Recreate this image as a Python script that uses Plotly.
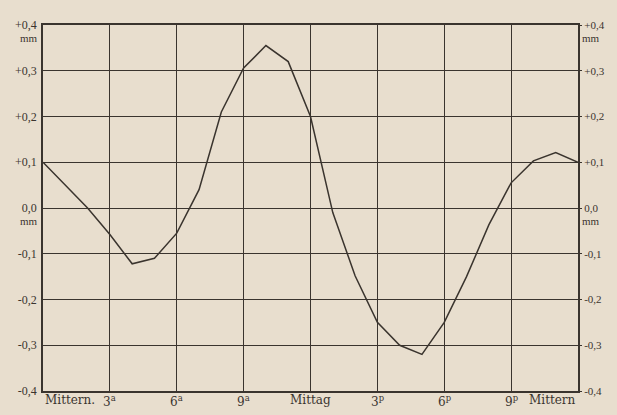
import plotly.graph_objects as go

# hourly values (mm), midnight to midnight
hours = list(range(25))
values = [0.10, 0.05, 0.0, -0.058, -0.122, -0.11, -0.055, 0.04, 0.21, 0.306,
          0.355, 0.32, 0.20, -0.01, -0.148, -0.25, -0.30, -0.32, -0.25, -0.15,
          -0.037, 0.055, 0.103, 0.121, 0.10]

y_tickvals = [0.4, 0.3, 0.2, 0.1, 0.0, -0.1, -0.2, -0.3, -0.4]
y_ticktext = ["+0,4", "+0,3", "+0,2", "+0,1", "0,0", "-0,1", "-0,2", "-0,3", "-0,4"]
mm_at = [0.4, 0.0]

x_tickvals = [0, 3, 6, 9, 12, 15, 18, 21, 24]
x_ticktext = ["Mittern.", "3<sup>a</sup>", "6<sup>a</sup>", "9<sup>a</sup>", "Mittag",
              "3<sup>p</sup>", "6<sup>p</sup>", "9<sup>p</sup>", "Mittern"]

ink = "#3a342e"
paper = "#e8dece"
serif = "Liberation Serif, DejaVu Serif, serif"
font = dict(family=serif, size=12, color=ink)

fig = go.Figure()
fig.add_trace(go.Scatter(x=hours, y=values, mode="lines",
                         line=dict(color=ink, width=1.5), showlegend=False,
                         hoverinfo="skip"))
# invisible trace to enable the right axis
fig.add_trace(go.Scatter(x=[0], y=[0], yaxis="y2", mode="markers",
                         marker=dict(opacity=0), showlegend=False, hoverinfo="skip"))

fig.update_layout(
    width=617, height=415,
    margin=dict(l=43, r=27, t=25, b=24),
    paper_bgcolor=paper, plot_bgcolor=paper,
    font=font,
    xaxis=dict(range=[0, 24], tickvals=x_tickvals, showticklabels=False,
               showgrid=True, gridcolor=ink, gridwidth=1.3, zeroline=False,
               showline=True, linecolor=ink, linewidth=1.6, mirror=True, ticks=""),
    yaxis=dict(range=[-0.4, 0.4], tickvals=y_tickvals, ticktext=y_ticktext,
               showgrid=True, gridcolor=ink, gridwidth=1.3, zeroline=False,
               showline=True, linecolor=ink, linewidth=1.6, mirror=True,
               ticks="", ticklabelstandoff=2, tickfont=dict(size=12)),
    yaxis2=dict(range=[-0.4, 0.4], tickvals=y_tickvals, ticktext=y_ticktext,
                overlaying="y", side="right", showgrid=False, zeroline=False,
                ticks="outside", ticklen=3, tickcolor=ink, ticklabelstandoff=0,
                tickfont=dict(size=11)),
)

for xv, txt in zip(x_tickvals, x_ticktext):
    anchor = "center"
    if xv == x_tickvals[0]:
        anchor = "left"
    elif xv == x_tickvals[-1]:
        anchor = "right"
    fig.add_annotation(x=xv, y=0, xref="x", yref="paper", text=txt, showarrow=False,
                       xanchor=anchor, yanchor="top", yshift=0,
                       font=dict(family="DejaVu Serif, serif", size=12))

for yv in mm_at:
    fig.add_annotation(x=0, y=yv, xref="paper", yref="y", text="mm", showarrow=False,
                       xanchor="right", yanchor="top", yshift=-5, xshift=-3,
                       font=dict(size=11))
    fig.add_annotation(x=1, y=yv, xref="paper", yref="y", text="mm", showarrow=False,
                       xanchor="left", yanchor="top", yshift=-5, xshift=2,
                       font=dict(size=11))

fig.write_html("out.html", config={"displayModeBar": False},
               post_script="document.body.style.margin='0';document.body.style.background='%s';" % paper)
